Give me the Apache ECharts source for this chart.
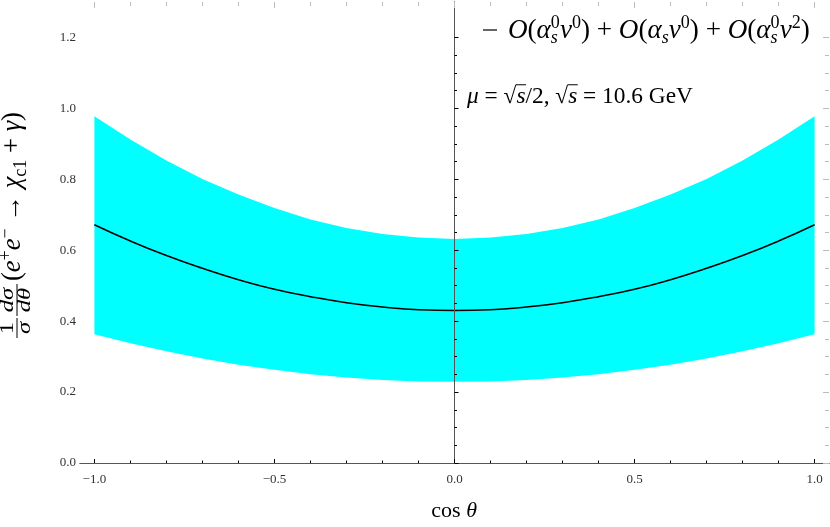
<!DOCTYPE html>
<html><head><meta charset="utf-8">
<script src="https://cdn.jsdelivr.net/npm/echarts@6/dist/echarts.min.js"></script>
<style>html,body{margin:0;padding:0;background:#fff}#c{width:830px;height:527px}</style>
</head><body><div id="c"></div>
<script>
// ---- data ----
const cosTheta = [-1.0,-0.9,-0.8,-0.7,-0.6,-0.5,-0.4,-0.3,-0.2,-0.1,0.0,0.1,0.2,0.3,0.4,0.5,0.6,0.7,0.8,0.9,1.0];
const central  = [0.672,0.626,0.585,0.549,0.517,0.490,0.469,0.452,0.440,0.432,0.430,0.432,0.440,0.452,0.469,0.490,0.517,0.549,0.585,0.626,0.672];
const upper    = [0.978,0.912,0.853,0.801,0.757,0.719,0.687,0.663,0.646,0.636,0.632,0.636,0.646,0.663,0.687,0.719,0.757,0.801,0.853,0.912,0.978];
const lower    = [0.363,0.338,0.315,0.295,0.277,0.263,0.250,0.241,0.234,0.230,0.229,0.230,0.234,0.241,0.250,0.263,0.277,0.295,0.315,0.338,0.363];
const xTickVals   = [-1,-0.5,0,0.5,1];
const xTickLabels = ['\u22121.0','\u22120.5','0.0','0.5','1.0'];
const yTickVals   = [0,0.2,0.4,0.6,0.8,1.0,1.2];
const yTickLabels = ['0.0','0.2','0.4','0.6','0.8','1.0','1.2'];

// ---- layout ----
const FONT = '"Liberation Serif","DejaVu Serif",serif';
const L = 80, R = 829, T = 2, B = 463;
const XMIN = -1.04, XMAX = 1.04, YMAX = 1.3;
const pxX = (R - L) / (XMAX - XMIN);
const pxY = (B - T) / YMAX;
const innerL = L + (-1 - XMIN) * pxX, innerR = R - (XMAX - 1) * pxX;
const innerT = B - 1.2 * pxY;
const MID = 0.28;

const mctx = document.createElement('canvas').getContext('2d');
function tw(t, s, it) { mctx.font = (it ? 'italic ' : '') + s + 'px ' + FONT; return mctx.measureText(t).width; }
function txt(t, x, y, s, it, align, sx) {
  return { type: 'text', x: x, y: y, scaleX: sx || 1, silent: true, z: 100,
    style: { text: t, font: (it ? 'italic ' : '') + s + 'px ' + FONT, fill: '#000',
      textAlign: align || 'left', textVerticalAlign: 'middle', align: align || 'left', verticalAlign: 'middle' } };
}
function hline(x1, x2, y, w) {
  return { type: 'line', silent: true, z: 100, shape: { x1: x1, y1: y, x2: x2, y2: y }, style: { stroke: '#000', lineWidth: w || 1 } };
}
function run(pieces, sc) {
  let x = 0, pend = 0; const out = [];
  for (const p of pieces) {
    const s = p.s * sc, w = tw(p.t, s, p.i);
    out.push({ t: p.t, x: x, dy: (p.dy || 0) * sc, s: s, i: p.i, w: w, ol: p.ol });
    if (p.keep) { pend = Math.max(pend, w); } else { x += Math.max(w, pend); pend = 0; }
  }
  return { items: out, width: x };
}
function place(pieces, x0, x1, base, extra) {
  const sc = (x1 - x0) / run(pieces, 1).width;
  const r = run(pieces, sc); const els = [];
  r.items.forEach(it => {
    els.push(txt(it.t, x0 + it.x, base + it.dy - MID * it.s, it.s, it.i));
    if (it.ol && extra) els.push(hline(x0 + it.x - 0.5, x0 + it.x + it.w + 0.5, base - extra * it.s, 1));
  });
  return els;
}

// legend text
function term(supA, supV) {
  const p = [{ t: 'O', s: 24, i: 1 }, { t: '(', s: 24 }, { t: '\u03b1', s: 24, i: 1 }];
  if (supA) p.push({ t: supA, s: 16, dy: -9, keep: 1 });
  p.push({ t: 's', s: 16, i: 1, dy: 5 });
  p.push({ t: 'v', s: 24, i: 1 }, { t: supV, s: 16, dy: -9 }, { t: ')', s: 24 });
  return p;
}
const legendPieces = [].concat(term('0', '0'), [{ t: ' + ', s: 24 }], term('', '0'), [{ t: ' + ', s: 24 }], term('0', '2'));
const annoPieces = [
  { t: '\u03bc', s: 23, i: 1 }, { t: ' = ', s: 23 }, { t: '\u221a', s: 23 }, { t: 's', s: 23, i: 1, ol: 1 },
  { t: '/2, ', s: 23 }, { t: '\u221a', s: 23 }, { t: 's', s: 23, i: 1, ol: 1 }, { t: ' = 10.6 GeV', s: 23 }
];

// y-axis label (rotated group, local coordinates: +x = up the page, +y = right)
function yLabel() {
  const ch = []; const fs = 19;
  function frac(num, den, x0, w) {
    ch.push(hline(x0, x0 + w, 0, 1));
    ch.push(txt(num, x0 + w / 2, -4 - MID * fs, fs, num !== '1', 'center', 1.3));
    ch.push(txt(den, x0 + w / 2, 13.5 - MID * fs, fs, 1, 'center', 1.3));
  }
  frac('1', '\u03c3', 0, 20);
  frac('d\u03c3', 'd\u03b8', 22, 32);
  const main = [
    { t: '(', s: 22 }, { t: 'e', s: 22, i: 1 }, { t: '+', s: 15, dy: -8 }, { t: 'e', s: 22, i: 1 }, { t: '\u2212', s: 15, dy: -8 },
    { t: ' \u2192 ', s: 22 }, { t: '\u03c7', s: 22, i: 1 }, { t: 'c1', s: 15, dy: 5 }, { t: ' + ', s: 22 }, { t: '\u03b3', s: 22, i: 1 }, { t: ')', s: 22 }
  ];
  place(main, 57, 226, 3.5).forEach(e => ch.push(e));
  return { type: 'group', x: 17, y: 338, rotation: Math.PI / 2, children: ch };
}

function fmt(vals, labels) {
  return v => { for (let k = 0; k < vals.length; k++) if (Math.abs(vals[k] - v) < 1e-6) return labels[k]; return ''; };
}

const bandData = cosTheta.map((c, k) => [c, lower[k], upper[k]]);
const centralData = cosTheta.map((c, k) => [c, central[k]]);

function renderBand(params, api) {
  if (params.dataIndex !== 0) return null;
  const pts = [];
  for (let k = 0; k < cosTheta.length; k++) pts.push(api.coord([cosTheta[k], upper[k]]));
  for (let k = cosTheta.length - 1; k >= 0; k--) pts.push(api.coord([cosTheta[k], lower[k]]));
  return { type: 'polygon', shape: { points: pts }, style: { fill: '#00ffff', stroke: null } };
}

const frameLine = { show: true, lineStyle: { color: '#555', width: 1 } };
const off = { show: false };
const tickFont = { fontFamily: FONT, fontSize: 13, color: '#333' };

const option = {
  animation: false,
  backgroundColor: '#fff',
  grid: [
    { left: L, top: T, width: R - L, height: B - T },
    { left: innerL, top: T, width: innerR - innerL, height: B - T },
    { left: L, top: innerT, width: R - L, height: B - innerT }
  ],
  xAxis: [
    { type: 'value', gridIndex: 0, z: 10, position: 'bottom', min: XMIN, max: XMAX, axisLine: frameLine, axisTick: off, axisLabel: off, splitLine: off },
    { type: 'value', gridIndex: 0, z: 10, position: 'top', min: XMIN, max: XMAX, axisLine: frameLine, axisTick: off, axisLabel: off, splitLine: off },
    { type: 'value', gridIndex: 1, z: 10, position: 'bottom', min: -1, max: 1, interval: 0.5,
      axisLine: { show: false }, splitLine: off,
      axisTick: { show: true, inside: true, length: 4, lineStyle: { color: '#000', width: 1 } },
      minorTick: { show: true, splitNumber: 5, length: 2.5, lineStyle: { color: '#000', width: 1 } },
      axisLabel: Object.assign({ margin: 10, formatter: fmt(xTickVals, xTickLabels) }, tickFont) },
    { type: 'value', gridIndex: 1, z: 10, position: 'top', min: -1, max: 1, interval: 0.5,
      axisLine: { show: false }, splitLine: off, axisLabel: off,
      axisTick: { show: true, inside: true, length: 6, lineStyle: { color: '#bbb', width: 1 } },
      minorTick: { show: true, splitNumber: 5, length: 4, lineStyle: { color: '#bbb', width: 1 } } },
    { type: 'value', gridIndex: 2, min: -1, max: 1, show: false }
  ],
  yAxis: [
    { type: 'value', gridIndex: 0, z: 10, position: 'left', min: 0, max: YMAX, axisLine: frameLine, axisTick: off, axisLabel: off, splitLine: off },
    { type: 'value', gridIndex: 0, z: 10, position: 'right', min: 0, max: YMAX, axisLine: frameLine, axisTick: off, axisLabel: off, splitLine: off },
    { type: 'value', gridIndex: 1, min: 0, max: YMAX, show: false, splitLine: off },
    { type: 'value', gridIndex: 2, z: 10, position: 'left', min: 0, max: 1.2, interval: 0.2,
      axisLine: { show: false }, splitLine: off,
      axisTick: { show: true, inside: true, length: 4, lineStyle: { color: '#000', width: 1 } },
      minorTick: { show: true, splitNumber: 4, length: 2.5, lineStyle: { color: '#000', width: 1 } },
      axisLabel: Object.assign({ margin: 4, formatter: fmt(yTickVals, yTickLabels) }, tickFont) },
    { type: 'value', gridIndex: 2, z: 10, position: 'right', min: 0, max: 1.2, interval: 0.2,
      axisLine: { show: false }, splitLine: off, axisLabel: off,
      axisTick: { show: true, inside: true, length: 6, lineStyle: { color: '#bbb', width: 1 } },
      minorTick: { show: true, splitNumber: 4, length: 4, lineStyle: { color: '#bbb', width: 1 } } }
  ],
  series: [
    { type: 'custom', xAxisIndex: 2, yAxisIndex: 2, data: bandData, encode: { x: 0, y: [1, 2] }, renderItem: renderBand, silent: true, z: 2 },
    { type: 'line', xAxisIndex: 2, yAxisIndex: 2, data: centralData, smooth: true, symbol: 'none', silent: true,
      lineStyle: { color: '#000', width: 1.5 }, z: 4,
      markLine: { silent: true, symbol: ['none', 'none'], label: { show: false }, lineStyle: { color: '#444', width: 1, type: 'solid' },
        data: [{ xAxis: 0 }] } }
  ],
  graphic: [].concat(
    [hline(483, 497, 30, 1.2)],
    place(legendPieces, 508, 810, 38),
    place(annoPieces, 467, 693, 103, 0.78),
    [txt('cos ', 454 - tw('cos \u03b8', 22, 0) / 2, 511, 22, 0)],
    [txt('\u03b8', 454 - tw('cos \u03b8', 22, 0) / 2 + tw('cos ', 22, 0), 511, 22, 1)],
    [yLabel()]
  )
};
const chart = echarts.init(document.getElementById('c'), null, { renderer: 'canvas' });
chart.setOption(option);
</script></body></html>
